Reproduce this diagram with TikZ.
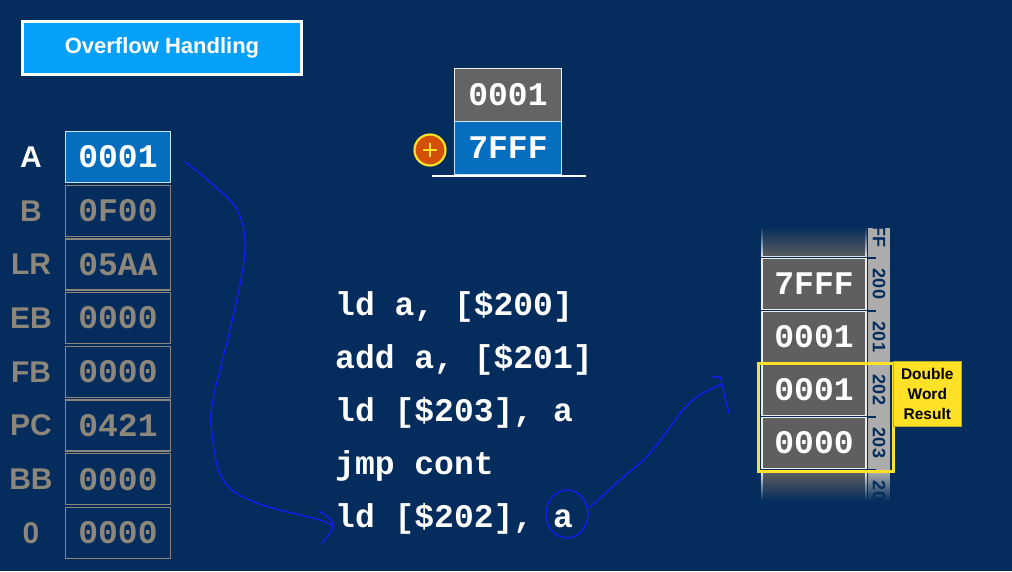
\documentclass[tikz,border=0pt]{standalone}
\usepackage{fontspec}
\setmainfont{Liberation Sans}
\newfontfamily\codefont{Liberation Mono}
\usetikzlibrary{fadings}
\definecolor{navy}{RGB}{4,44,92}
\definecolor{titleblue}{RGB}{5,160,250}
\definecolor{regblue}{RGB}{5,110,190}
\definecolor{reggray}{RGB}{140,135,122}
\definecolor{boxgray}{RGB}{100,100,100}
\definecolor{memgray}{RGB}{95,95,95}
\definecolor{adrgray}{RGB}{172,172,172}
\definecolor{yel}{RGB}{255,225,40}
\definecolor{plusorange}{RGB}{210,80,5}
\definecolor{pen}{RGB}{25,25,250}
\tikzfading[name=fadetop, top color=transparent!0, bottom color=transparent!100]
\tikzfading[name=fadebot, top color=transparent!100, bottom color=transparent!0]
\tikzset{
  bigmono/.style={font=\codefont\bfseries\fontsize{33}{33}\selectfont},
  regbox/.style={bigmono,draw=reggray,line width=1.2pt,minimum width=105pt,minimum height=51pt,inner sep=0pt,text=reggray},
  reglab/.style={font=\bfseries\fontsize{30}{30}\selectfont,text=reggray},
  memcell/.style={bigmono,fill=memgray,draw=white!85!gray,line width=1.5pt,minimum width=104pt,minimum height=51pt,inner sep=0pt,text=white},
  adrbox/.style={fill=adrgray,rotate=-90,minimum width=53pt,minimum height=22pt,inner sep=0pt,text=navy,font=\bfseries\fontsize{18}{18}\selectfont},
  handline/.style={pen,line width=1.3pt,line cap=round,line join=round}
}

\begin{document}
\begin{tikzpicture}[x=1pt,y=-1pt,>=latex]
  \fill[navy] (0,0) rectangle (1012,571);
  \useasboundingbox (0,0) rectangle (1012,571);
  \node[fill=titleblue,draw=white,line width=2.5pt,minimum width=279pt,minimum height=53pt,text=white,font=\bfseries\fontsize{22}{22}\selectfont] (title) at (162,48) {Overflow Handling};
  % registers
  \node[regbox,fill=regblue,draw=white!80!regblue,text=white] (rA) at (118,157) {0001};
  \node[reglab,text=white] (lA) at (31,157) {A};
  \foreach \nm/\val [count=\i] in {B/0F00,LR/05AA,EB/0000,FB/0000,PC/0421,BB/0000,0/0000} {
    \node[regbox] (r\i) at (118,{157+53.7*\i}) {\val};
    \node[reglab] (l\i) at (31,{157+53.7*\i}) {\nm};
  }
  % adder
  \node[regbox,fill=boxgray,draw=white!85!gray,text=white,minimum width=107pt,minimum height=53pt] (sumtop) at (508,95) {0001};
  \node[regbox,fill=regblue,draw=white!80!regblue,text=white,minimum width=107pt,minimum height=53pt] (sumbot) at (508,148) {7FFF};
  \draw[white,line width=2pt] (432,176) -- (586,176);
  \node[circle,fill=plusorange,draw=yel,line width=2.2pt,minimum size=31pt,inner sep=0pt] (plus) at (430,150) {};
  \draw[yel,line width=2.2pt] ([xshift=-7pt]plus.center) -- ([xshift=7pt]plus.center);
  \draw[yel,line width=2.2pt] ([yshift=-7pt]plus.center) -- ([yshift=7pt]plus.center);
  % code
  \foreach \ln [count=\i] in {{ld a, [\$200]},{add a, [\$201]},{ld [\$203], a},{jmp cont},{ld [\$202], a}}
    \node[bigmono,text=white,anchor=base west,inner sep=0pt] (code\i) at (335,{262+53*\i}) {\ln};
  % memory
  \begin{scope}
    \clip (755,228) rectangle (900,500);
    \node[memcell] (m0) at (814,231) {};
    \node[adrbox] (d0) at (879,231) {1FF};
    \node[memcell] (m5) at (814,496) {};
    \node[adrbox] (d5) at (879,496) {204};
  \end{scope}
  \foreach \val/\adr [count=\i] in {7FFF/200,0001/201,0001/202,0000/203} {
    \node[memcell] (m\i) at (814,{231+53*\i}) {\val};
    \node[adrbox] (d\i) at (879,{231+53*\i}) {\adr};
  }
  \foreach \i in {0,...,4}
    \draw[navy,line width=2pt] (868,{257.5+53*\i}) -- (876,{257.5+53*\i});
  \fill[navy,path fading=fadetop] (758,226) rectangle (868,258);
  \fill[navy,path fading=fadebot] (758,472) rectangle (893,501);
  \draw[yel,line width=3pt] (758,363) rectangle (893,471);
  \node[fill=yel,draw=yel!75!black,line width=0.6pt,anchor=north west,minimum width=68pt,minimum height=65pt,inner sep=0pt,align=center,font=\bfseries\fontsize{15.5}{20}\selectfont] (note) at (893,361) {Double\\Word\\Result};
  % pen strokes
  \coordinate (s1) at (185,162);
  \coordinate (e1) at (333,527);
  \draw[handline] plot[smooth,tension=0.6] coordinates {(s1) (210,182) (237,210) (245,250) (233,317) (213,400) (212,433) (223,480) (257,503) (320,520) (e1)};
  \draw[handline] plot[smooth] coordinates {(319,511) (330,519) (e1) (327,537) (322,543)};
  \draw[handline] (567,514) ellipse [x radius=21,y radius=24];
  \coordinate (s2) at (589,508);
  \coordinate (e2) at (722,384);
  \draw[handline] plot[smooth,tension=0.6] coordinates {(s2) (620,480) (650,453) (683,410) (700,395) (e2)};
  \draw[handline] plot[smooth] coordinates {(712,377) (720,377) (e2) (725,398) (729,413)};
\end{tikzpicture}
\end{document}
